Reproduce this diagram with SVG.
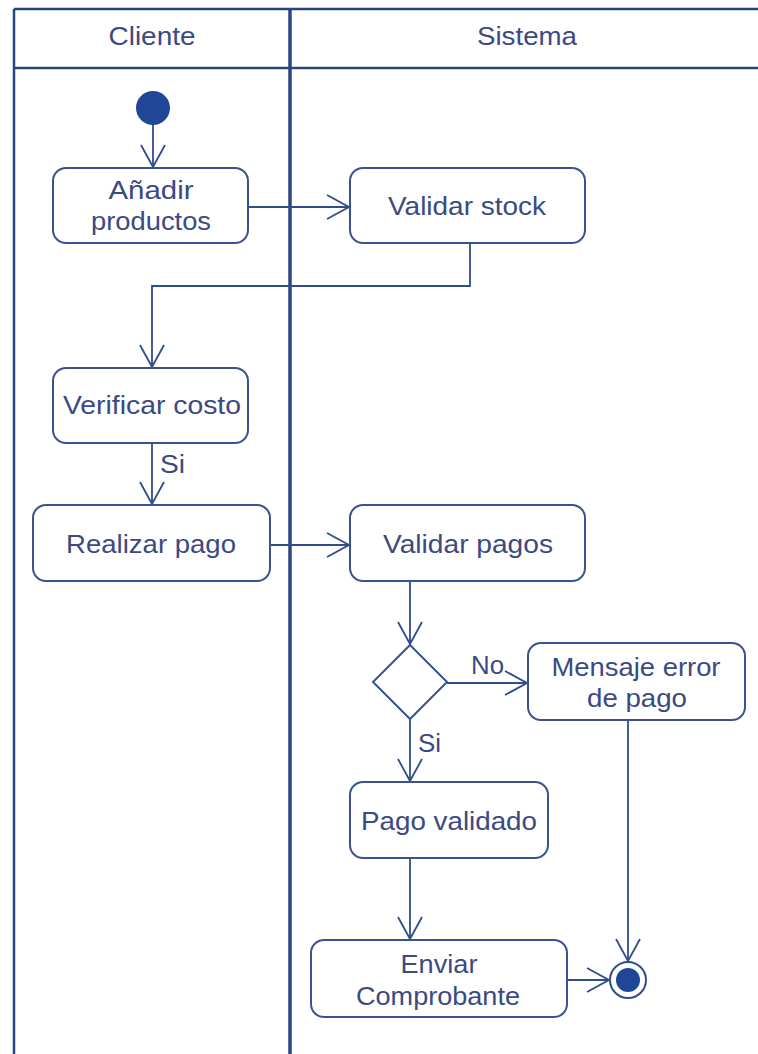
<svg xmlns="http://www.w3.org/2000/svg" width="758" height="1054" viewBox="0 0 758 1054">
  <defs>
    <marker id="open" viewBox="0 0 24 26" refX="23" refY="13" markerWidth="24" markerHeight="26" markerUnits="userSpaceOnUse" orient="auto">
      <path d="M1,1 L23,13 L1,25" fill="none" stroke="#2f4c8c" stroke-width="1.8"/>
    </marker>
    <style>
      .lane { stroke: #2a4482; fill: none; }
      .act rect { fill: #ffffff; stroke: #3a5290; stroke-width: 2; }
      .txt { font-family: "Liberation Sans", Arial, sans-serif; font-size: 25px; fill: #3b4a82; text-anchor: middle; }
      .edge { fill: none; stroke: #2f4c8c; stroke-width: 1.8; }
      .lbl { font-family: "Liberation Sans", Arial, sans-serif; font-size: 25px; fill: #3b4a82; }
    </style>
  </defs>

  <rect x="0" y="0" width="758" height="1054" fill="#ffffff"/>

  <!-- swimlanes -->
  <g id="lanes">
    <line class="lane" x1="14" y1="9" x2="758" y2="9" stroke-width="2.5"/>
    <line class="lane" x1="14" y1="68" x2="758" y2="68" stroke-width="2.5"/>
    <line class="lane" x1="14" y1="9" x2="14" y2="1054" stroke-width="2.5"/>
    <line class="lane" x1="290" y1="9" x2="290" y2="1054" stroke-width="3.5"/>
    <text class="txt" x="152" y="45" textLength="87" lengthAdjust="spacingAndGlyphs">Cliente</text>
    <text class="txt" x="527" y="45" textLength="100" lengthAdjust="spacingAndGlyphs">Sistema</text>
  </g>

  <!-- connectors -->
  <g id="connectors">
    <path class="edge" d="M153,124 L153,167" marker-end="url(#open)"/>
    <path class="edge" d="M248,207 L349,207" marker-end="url(#open)"/>
    <path class="edge" d="M470,243 L470,286 L152,286 L152,367" marker-end="url(#open)"/>
    <path class="edge" d="M152,443 L152,504" marker-end="url(#open)"/>
    <text class="lbl" x="160" y="473" textLength="25" lengthAdjust="spacingAndGlyphs">Si</text>
    <path class="edge" d="M270,545 L349,545" marker-end="url(#open)"/>
    <path class="edge" d="M410,581 L410,644" marker-end="url(#open)"/>
    <path class="edge" d="M447,683 L527,683" marker-end="url(#open)"/>
    <text class="lbl" x="471" y="674" textLength="33" lengthAdjust="spacingAndGlyphs">No</text>
    <path class="edge" d="M410,719 L410,781" marker-end="url(#open)"/>
    <text class="lbl" x="418" y="752" textLength="23" lengthAdjust="spacingAndGlyphs">Si</text>
    <path class="edge" d="M410,858 L410,939" marker-end="url(#open)"/>
    <path class="edge" d="M567,980 L609,980" marker-end="url(#open)"/>
    <path class="edge" d="M628,720 L628,961" marker-end="url(#open)"/>
  </g>

  <!-- nodes -->
  <g id="start">
    <circle cx="153" cy="108" r="17" fill="#1f4796"/>
  </g>

  <g id="anadir" class="act">
    <rect x="53" y="168" width="195" height="75" rx="13"/>
    <text class="txt" x="151" y="199" textLength="85" lengthAdjust="spacingAndGlyphs">Añadir</text>
    <text class="txt" x="151" y="230" textLength="120" lengthAdjust="spacingAndGlyphs">productos</text>
  </g>

  <g id="validar-stock" class="act">
    <rect x="350" y="168" width="235" height="75" rx="13"/>
    <text class="txt" x="467" y="215" textLength="158" lengthAdjust="spacingAndGlyphs">Validar stock</text>
  </g>

  <g id="verificar" class="act">
    <rect x="53" y="368" width="195" height="75" rx="13"/>
    <text class="txt" x="152" y="414" textLength="178" lengthAdjust="spacingAndGlyphs">Verificar costo</text>
  </g>

  <g id="realizar" class="act">
    <rect x="33" y="505" width="237" height="76" rx="13"/>
    <text class="txt" x="151" y="553" textLength="170" lengthAdjust="spacingAndGlyphs">Realizar pago</text>
  </g>

  <g id="validar-pagos" class="act">
    <rect x="350" y="505" width="235" height="76" rx="13"/>
    <text class="txt" x="468" y="553" textLength="170" lengthAdjust="spacingAndGlyphs">Validar pagos</text>
  </g>

  <g id="decision">
    <path d="M410,645 L447,682 L410,719 L373,682 Z" fill="#ffffff" stroke="#3a5290" stroke-width="2"/>
  </g>

  <g id="mensaje" class="act">
    <rect x="528" y="643" width="217" height="77" rx="13"/>
    <text class="txt" x="636" y="676" textLength="169" lengthAdjust="spacingAndGlyphs">Mensaje error</text>
    <text class="txt" x="637" y="707" textLength="100" lengthAdjust="spacingAndGlyphs">de pago</text>
  </g>

  <g id="pago-validado" class="act">
    <rect x="350" y="782" width="198" height="76" rx="13"/>
    <text class="txt" x="449" y="830" textLength="176" lengthAdjust="spacingAndGlyphs">Pago validado</text>
  </g>

  <g id="enviar" class="act">
    <rect x="311" y="940" width="256" height="77" rx="13"/>
    <text class="txt" x="439" y="973" textLength="77" lengthAdjust="spacingAndGlyphs">Enviar</text>
    <text class="txt" x="438" y="1005" textLength="164" lengthAdjust="spacingAndGlyphs">Comprobante</text>
  </g>

  <g id="final">
    <circle cx="628" cy="980" r="18" fill="#ffffff" stroke="#2f4c8c" stroke-width="2"/>
    <circle cx="628" cy="980" r="12" fill="#1f4796"/>
  </g>
</svg>
